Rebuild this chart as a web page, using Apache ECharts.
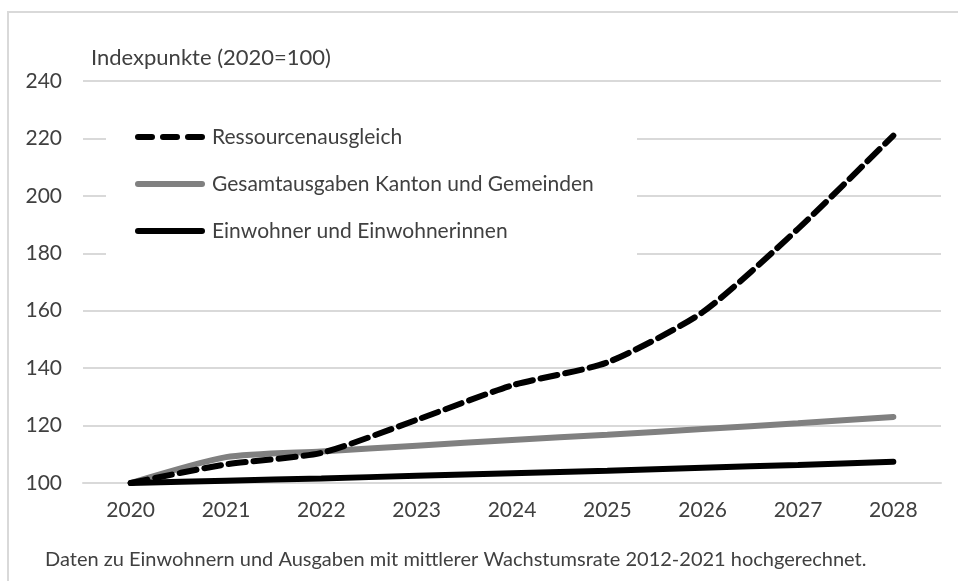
<!DOCTYPE html>
<html>
<head>
<meta charset="utf-8">
<script src="https://cdn.jsdelivr.net/npm/echarts@6/dist/echarts.min.js"></script>
<style>
  html, body { margin: 0; padding: 0; background: #fff; }
  #chart { width: 958px; height: 581px; }
</style>
</head>
<body>
<div id="chart"></div>
<script>
const years = ['2020', '2021', '2022', '2023', '2024', '2025', '2026', '2027', '2028'];
const ressourcen = [100, 106.5, 110.5, 122, 134, 142, 159.5, 188.5, 221];
const ausgaben = [100, 109, 111, 113, 115, 116.8, 118.8, 120.8, 123];
const einwohner = [100, 100.8, 101.6, 102.5, 103.4, 104.3, 105.3, 106.3, 107.4];

const textColor = '#404040';
const font = 'Lato';

// legend icons: three dashes for the dashed series, a bar for the solid ones
const dashIcon = 'path://M3,0h14a3,3 0 0 1 0,6h-14a3,3 0 0 1 0,-6z' +
  'M28,0h14a3,3 0 0 1 0,6h-14a3,3 0 0 1 0,-6z' +
  'M53,0h14a3,3 0 0 1 0,6h-14a3,3 0 0 1 0,-6z';
const barIcon = 'path://M3,0h64a3,3 0 0 1 0,6h-64a3,3 0 0 1 0,-6z';

const chart = echarts.init(document.getElementById('chart'));

chart.setOption({
  animation: false,
  textStyle: { fontFamily: font },
  graphic: [
    // outer frame (top and left edge visible)
    {
      type: 'rect', z: 0,
      shape: { x: 8, y: 12, width: 1000, height: 600 },
      style: { fill: 'none', stroke: '#d9d9d9', lineWidth: 2 }
    },
    // white box behind the legend
    {
      type: 'rect', z: 1,
      shape: { x: 106, y: 100, width: 531, height: 166 },
      style: { fill: '#fff' }
    },
    {
      type: 'text', left: 45, top: 550,
      style: {
        text: 'Daten zu Einwohnern und Ausgaben mit mittlerer Wachstumsrate 2012-2021 hochgerechnet.',
        fill: textColor, font: '20px ' + font
      }
    }
  ],
  grid: { left: 83, right: 17, top: 81, bottom: 98 },
  legend: {
    orient: 'vertical',
    left: 135, top: 126,
    padding: 0,
    itemWidth: 70, itemHeight: 6,
    itemGap: 25,
    z: 5,
    textStyle: { color: textColor, fontSize: 21, lineHeight: 22, fontFamily: font, padding: [0, 0, 0, 2] },
    data: [
      { name: 'Ressourcenausgleich', icon: dashIcon },
      { name: 'Gesamtausgaben Kanton und Gemeinden', icon: barIcon },
      { name: 'Einwohner und Einwohnerinnen', icon: barIcon }
    ]
  },
  xAxis: {
    type: 'category',
    data: years,
    boundaryGap: true,
    axisLine: { lineStyle: { color: '#d9d9d9', width: 2 } },
    axisTick: { show: false },
    axisLabel: { color: textColor, fontSize: 21, margin: 17, fontFamily: font }
  },
  yAxis: {
    type: 'value',
    min: 100, max: 240, interval: 20,
    name: 'Indexpunkte (2020=100)',
    nameLocation: 'end',
    nameGap: 12,
    nameTextStyle: { color: textColor, fontSize: 22, align: 'left', padding: [0, 0, 0, 8], fontFamily: font },
    axisLine: { show: false },
    axisTick: { show: false },
    axisLabel: { color: textColor, fontSize: 21, margin: 21, fontFamily: font },
    splitLine: { lineStyle: { color: '#d9d9d9', width: 2 } }
  },
  series: [
    {
      name: 'Ressourcenausgleich', type: 'line', data: ressourcen,
      smooth: 0.22, symbol: 'none', z: 4,
      itemStyle: { color: '#000' },
      lineStyle: { color: '#000', width: 6, type: [17, 8], cap: 'round' }
    },
    {
      name: 'Gesamtausgaben Kanton und Gemeinden', type: 'line', data: ausgaben,
      smooth: 0.22, symbol: 'none', z: 3,
      itemStyle: { color: '#808080' },
      lineStyle: { color: '#808080', width: 6, cap: 'round' }
    },
    {
      name: 'Einwohner und Einwohnerinnen', type: 'line', data: einwohner,
      smooth: 0.22, symbol: 'none', z: 3,
      itemStyle: { color: '#000' },
      lineStyle: { color: '#000', width: 6, cap: 'round' }
    }
  ]
});
</script>
</body>
</html>
